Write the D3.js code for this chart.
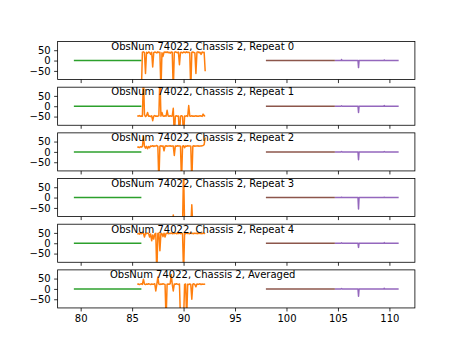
<!DOCTYPE html>
<html>
<head>
<meta charset="utf-8">
<script src="https://cdn.jsdelivr.net/npm/d3@7"></script>
<style>
  html, body { margin: 0; padding: 0; background: #fff; }
  svg { display: block; font-family: "DejaVu Sans", sans-serif; }
</style>
</head>
<body>
<svg id="chart" width="461" height="346"></svg>
<script>
// Panel titles, top to bottom
const panelTitles = [
  "ObsNum 74022, Chassis 2, Repeat 0",
  "ObsNum 74022, Chassis 2, Repeat 1",
  "ObsNum 74022, Chassis 2, Repeat 2",
  "ObsNum 74022, Chassis 2, Repeat 3",
  "ObsNum 74022, Chassis 2, Repeat 4",
  "ObsNum 74022, Chassis 2, Averaged"
];

const xTicks = [80, 85, 90, 95, 100, 105, 110];
const yTicks = [50, 0, -50];
const yLimit = 92;

// Flat bands
const greenX = [79.34, 85.9];
const greenY = [0, 0];
const brownX = [98.0, 104.7];
const brownY = [0, 0];

// Purple band: sample positions and per-panel values
const purpleX = [104.7, 105.3, 105.35, 105.4, 106.95, 107.0, 107.05, 109.45, 109.5, 109.55, 110.9];
const purpleY = [
  [0, 0, 5, 0, 0, -34, 0, 0, 3, 0, 0],
  [0, 0, 2, 0, 0, -30, 0, 0, 3, 0, 0],
  [0, 0, 2, 0, 0, -38, 0, 0, 2, 0, 0],
  [0, 0, 2, 0, 0, -55, 0, 0, 2, 0, 0],
  [0, 0, 2, 0, 0, -20, 0, 0, 3, 0, 0],
  [0, 0, 2, 0, 0, -35, 0, 0, 3, 0, 0]
];

// Orange band: sampled every 0.1 from 85.5 to 92.1
const orangeStart = 85.5;
const orangeStep = 0.1;
const orangeY = [
  [-150,-150,-150,-150,-150,40,42,38,-63,40,36,41,39,30,40,-31,38,41,40,37,42,39,40,-150,38,20,40,41,39,42,38,40,36,41,40,-150,39,42,40,38,41,-20,39,40,37,41,40,38,42,39,40,38,-150,40,41,39,37,-63,40,42,38,40,30,41,39,40,-52],
  [-46,-48,-45,-49,-47,-48,150,-40,-50,-46,-30,-48,-47,-50,-46,-70,-48,-45,-49,-47,-48,-46,150,-48,-30,-47,-49,-46,-48,-20,-47,-49,-46,-48,-47,-10,-150,-48,-46,-49,-47,-150,-48,-46,-49,-150,-47,-48,-46,-49,3,-47,-48,-46,-49,-47,-48,-46,-49,-47,-48,-46,-47,-49,-38,-47,-45],
  [22,24,21,25,23,26,75,28,18,27,15,26,20,29,27,30,26,29,28,31,27,-150,28,30,27,29,5,28,30,27,29,28,30,27,29,28,-17,29,27,30,28,29,27,-150,28,30,20,29,27,30,28,29,27,-150,28,30,27,29,28,30,27,29,28,30,31,35,70],
  [-140,-140,-140,-140,-140,-140,-140,-140,-140,-140,-140,-140,-140,-140,-140,-140,-140,-140,-140,-140,-140,-140,-140,-140,-140,-140,-140,-140,-140,-140,-140,-140,-140,-140,-140,-84,-140,-140,-140,-140,-140,-140,-140,-140,-140,150,-140,-140,-140,-140,-140,-140,-140,-35,-140,-140,-140,-140,-140,-140,-140,-140,-140,-140,-140,-140,-140],
  [45,47,44,48,46,49,47,30,48,46,49,47,30,45,12,40,20,44,48,-150,47,49,-36,48,46,32,48,30,47,49,46,48,47,49,46,48,47,49,46,48,47,49,46,48,47,-150,48,46,49,47,48,46,49,47,48,46,49,47,48,46,49,47,48,46,49,47,48],
  [22,24,21,23,25,22,47,23,21,24,22,25,23,21,24,22,23,25,-10,22,57,23,21,24,22,25,23,21,-150,23,24,22,25,70,23,-10,24,22,25,23,21,24,-150,-150,-150,-150,22,24,-150,23,21,24,22,-50,23,25,21,10,24,22,23,25,21,24,22,23,24]
];

const colors = { orange: "#ff7f0e", green: "#2ca02c", purple: "#9467bd", brown: "#8c564b" };

const W = 461, H = 346;
const plotLeft = 0.125 * W, plotRight = 0.9 * W;
const plotTop = 0.12 * H, plotBottom = 0.89 * H;
const nPanels = panelTitles.length;
const hspace = 0.2;
const panelH = (plotBottom - plotTop) / (nPanels + (nPanels - 1) * hspace);
const gap = panelH * hspace;

const svg = d3.select("#chart");

// x extent over all bands, padded by 5% on each side
const xMin = greenX[0], xMax = purpleX[purpleX.length - 1];
const pad = (xMax - xMin) * 0.05;
const x = d3.scaleLinear().domain([xMin - pad, xMax + pad]).range([plotLeft, plotRight]);

panelTitles.forEach((title, i) => {
  const y0 = plotTop + i * (panelH + gap);
  const y = d3.scaleLinear().domain([-yLimit, yLimit]).range([y0 + panelH, y0]);
  const g = svg.append("g");

  const clipId = "clip" + i;
  svg.append("clipPath").attr("id", clipId)
    .append("rect").attr("x", plotLeft).attr("y", y0).attr("width", plotRight - plotLeft).attr("height", panelH);

  const plot = g.append("g").attr("clip-path", `url(#${clipId})`);
  const lineY = d3.line().x(d => x(d[0])).y(d => y(d[1]));

  const orangePts = orangeY[i].map((v, k) => [orangeStart + k * orangeStep, v]);
  const greenPts = greenX.map((v, k) => [v, greenY[k]]);
  const purplePts = purpleX.map((v, k) => [v, purpleY[i][k]]);
  const brownPts = brownX.map((v, k) => [v, brownY[k]]);

  [[orangePts, colors.orange], [greenPts, colors.green], [purplePts, colors.purple], [brownPts, colors.brown]]
    .forEach(([pts, c]) => {
      plot.append("path").attr("d", lineY(pts)).attr("fill", "none")
        .attr("stroke", c).attr("stroke-width", 1.5)
        .attr("stroke-linejoin", "round").attr("stroke-linecap", "butt");
    });

  // y axis
  const yAxis = d3.axisLeft(y).tickValues(yTicks).tickSize(3.5).tickPadding(3.5)
    .tickFormat(d => d < 0 ? "\u2212" + Math.abs(d) : String(d));
  const ya = g.append("g").attr("transform", `translate(${plotLeft},0)`).call(yAxis);
  ya.select(".domain").remove();
  ya.selectAll("line").attr("stroke", "#000").attr("stroke-width", 0.8);
  ya.selectAll("text").attr("font-size", 10).attr("font-family", "DejaVu Sans").attr("fill", "#000");

  // x axis (labels on bottom panel only)
  const xAxis = d3.axisBottom(x).tickValues(xTicks).tickSize(3.5).tickPadding(3.5)
    .tickFormat(i === nPanels - 1 ? d3.format("d") : () => "");
  const xa = g.append("g").attr("transform", `translate(0,${y0 + panelH})`).call(xAxis);
  xa.select(".domain").remove();
  xa.selectAll("line").attr("stroke", "#000").attr("stroke-width", 0.8);
  xa.selectAll("text").attr("font-size", 10).attr("font-family", "DejaVu Sans").attr("fill", "#000");

  // frame
  g.append("rect").attr("x", plotLeft).attr("y", y0).attr("width", plotRight - plotLeft).attr("height", panelH)
    .attr("fill", "none").attr("stroke", "#000").attr("stroke-width", 0.8);

  // panel title
  g.append("text").attr("x", 202.7).attr("y", y0 + 8.3)
    .attr("text-anchor", "middle").attr("font-size", 10).attr("fill", "#000")
    .text(title);
});
</script>
</body>
</html>
